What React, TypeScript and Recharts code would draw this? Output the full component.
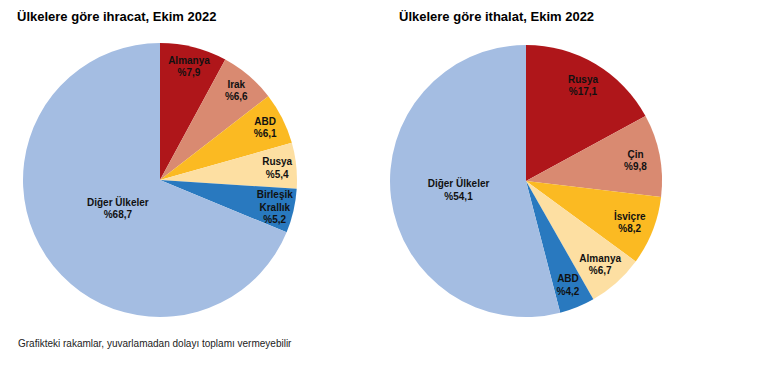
import { PieChart, Pie, Cell } from "recharts";

const exportCountries = ["Almanya", "Irak", "ABD", "Rusya", "Birleşik Krallık", "Diğer Ülkeler"];
const exportShares = [7.9, 6.6, 6.1, 5.4, 5.2, 68.7];

const importCountries = ["Rusya", "Çin", "İsviçre", "Almanya", "ABD", "Diğer Ülkeler"];
const importShares = [17.1, 9.8, 8.2, 6.7, 4.2, 54.1];

const sliceColors = ["#AF161A", "#D98A71", "#FBBA22", "#FDDFA2", "#2979BF", "#A4BDE2"];

const RAD = Math.PI / 180;
const fontFamily = "'Liberation Sans', Arial, sans-serif";

const toRows = (names: string[], values: number[]) =>
  names.map((name, i) => ({ name, value: values[i] }));

// small slices get their label near the rim, the big "Diğer" slice closer to the centre
const makeLabel = (rimFactor: number, bigFactor: number) => (props: any) => {
  const { cx, cy, midAngle, outerRadius, percent, name, value } = props;
  const big = percent > 0.5;
  const r = outerRadius * (big ? bigFactor : rimFactor);
  const x = cx + r * Math.cos(-midAngle * RAD);
  const y = cy + r * Math.sin(-midAngle * RAD);
  const lines = big ? [name] : name.split(" ");
  lines.push("%" + value.toFixed(1).replace(".", ","));
  const lh = 12.5;
  const top = y - ((lines.length - 1) * lh) / 2;
  return (
    <text
      x={x}
      y={top}
      textAnchor="middle"
      dominantBaseline="central"
      fill="#111"
      fontSize={10}
      fontWeight="bold"
      fontFamily={fontFamily}
    >
      {lines.map((l: string, i: number) => (
        <tspan key={i} x={x} dy={i === 0 ? 0 : lh}>
          {l}
        </tspan>
      ))}
    </text>
  );
};

const titleStyle: React.CSSProperties = {
  position: "absolute",
  top: 9,
  fontFamily,
  fontWeight: "bold",
  fontSize: 13,
  color: "#000",
  whiteSpace: "nowrap",
};

export default function App() {
  const exportData = toRows(exportCountries, exportShares);
  const importData = toRows(importCountries, importShares);

  return (
    <div style={{ position: "relative", width: 766, height: 371, background: "#fff" }}>
      <style>{"body{margin:0}"}</style>
      <div style={{ ...titleStyle, left: 17 }}>Ülkelere göre ihracat, Ekim 2022</div>
      <div style={{ ...titleStyle, left: 399 }}>Ülkelere göre ithalat, Ekim 2022</div>
      <PieChart
        width={766}
        height={371}
        margin={{ top: 0, right: 0, bottom: 0, left: 0 }}
        style={{ position: "absolute", left: 0, top: 0 }}
      >
        <Pie
          data={exportData}
          dataKey="value"
          nameKey="name"
          cx={160}
          cy={180}
          outerRadius={137}
          startAngle={90}
          endAngle={-270}
          stroke="none"
          labelLine={false}
          label={makeLabel(0.86, 0.37)}
          isAnimationActive={false}
        >
          {exportData.map((_, i) => (
            <Cell key={i} fill={sliceColors[i]} />
          ))}
        </Pie>
        <Pie
          data={importData}
          dataKey="value"
          nameKey="name"
          cx={526}
          cy={181}
          outerRadius={136}
          startAngle={90}
          endAngle={-270}
          stroke="none"
          labelLine={false}
          label={makeLabel(0.82, 0.5)}
          isAnimationActive={false}
        >
          {importData.map((_, i) => (
            <Cell key={i} fill={sliceColors[i]} />
          ))}
        </Pie>
      </PieChart>
      <div
        style={{
          position: "absolute",
          left: 18,
          top: 338,
          fontFamily,
          fontSize: 10,
          color: "#222",
          whiteSpace: "nowrap",
        }}
      >
        Grafikteki rakamlar, yuvarlamadan dolayı toplamı vermeyebilir
      </div>
    </div>
  );
}
